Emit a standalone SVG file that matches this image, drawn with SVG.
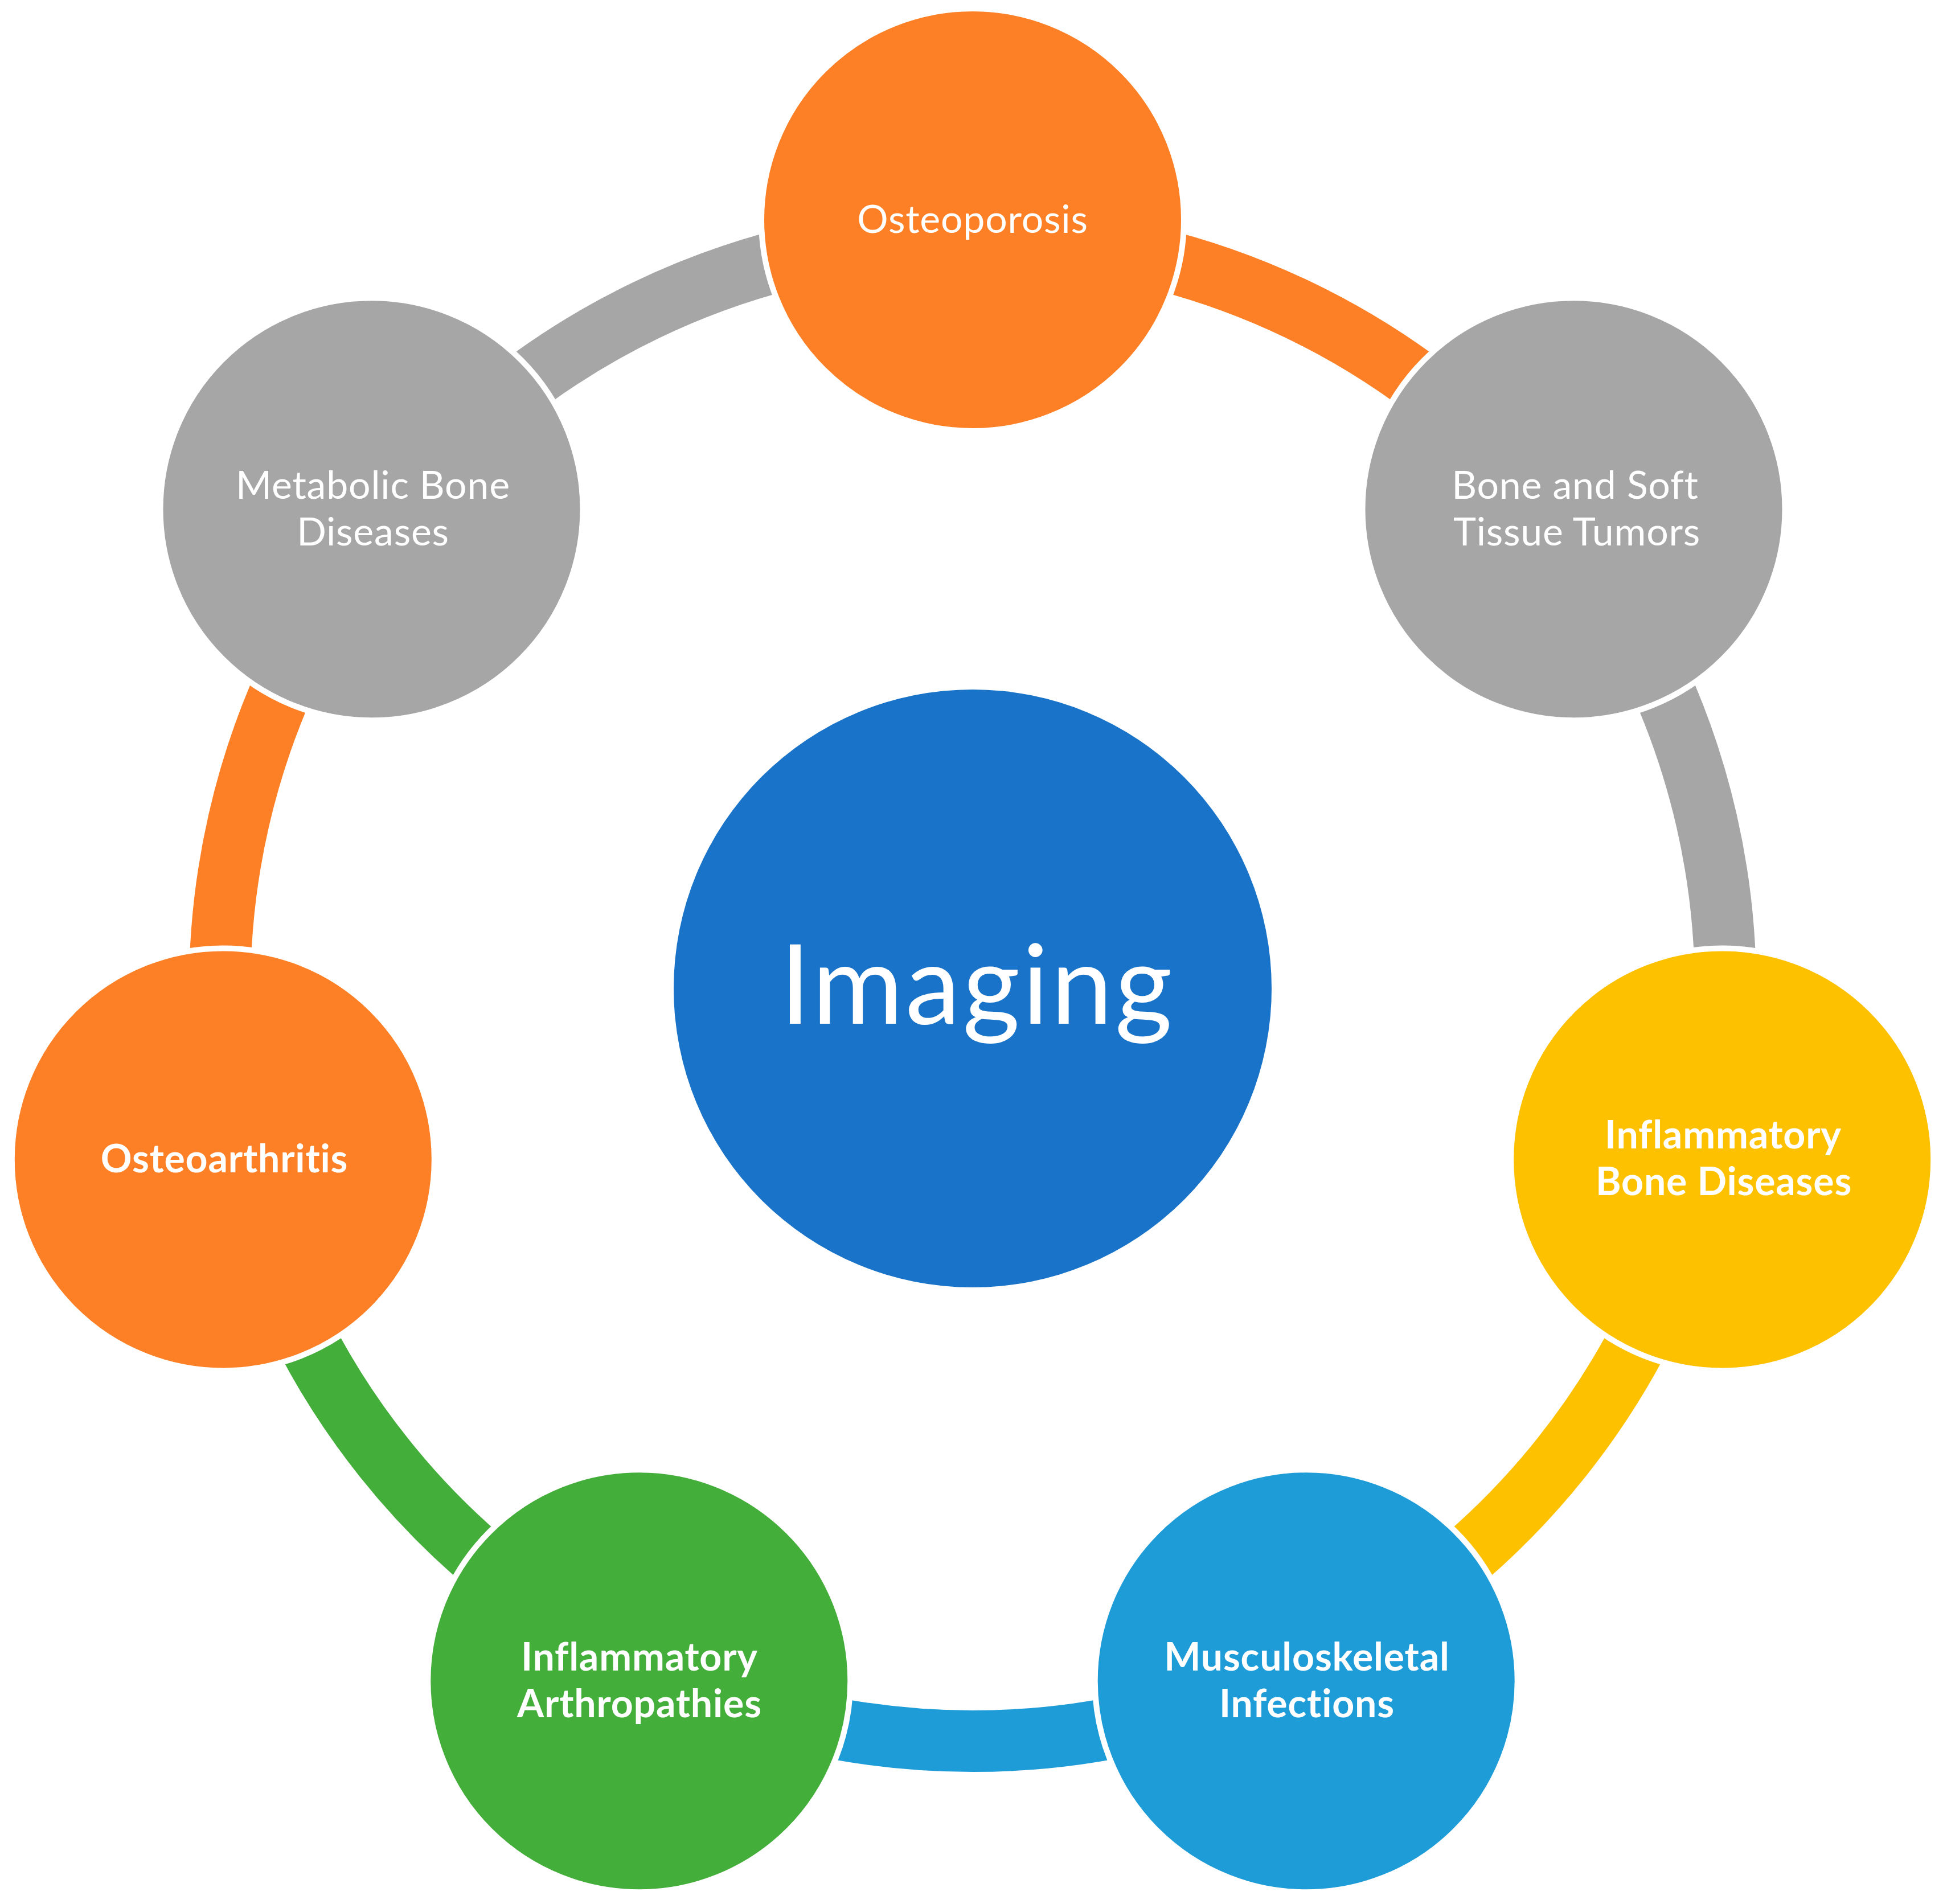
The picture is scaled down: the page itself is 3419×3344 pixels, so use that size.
<svg xmlns="http://www.w3.org/2000/svg" width="3419" height="3344" viewBox="0 0 3419 3344">
<style>
.arc{fill:none;stroke-width:108;stroke-linecap:butt}
.node{stroke:#FFFFFF;stroke-width:10}
.lbl{font-family:Lato,"Liberation Sans",sans-serif;font-size:68px;letter-spacing:0.8px;fill:#FFFFFF;text-anchor:middle}
.b{font-weight:bold}
.orange{fill:#FE8026}.gray{fill:#A6A6A6}.yellow{fill:#FEC100}.lblue{fill:#1E9CD8}.green{fill:#44AE3A}
</style>
<rect width="3419" height="3344" fill="#FFFFFF"/>
<g id="connectors">
<path class="arc" stroke="#FE8026" d="M1708,414 A1322,1322 0 0 1 2741.6,911.7"/>
<path class="arc" stroke="#A6A6A6" d="M2741.6,911.7 A1322,1322 0 0 1 2996.9,2030.2"/>
<path class="arc" stroke="#FEC100" d="M2996.9,2030.2 A1322,1322 0 0 1 2281.6,2927.1"/>
<path class="arc" stroke="#1E9CD8" d="M2281.6,2927.1 A1322,1322 0 0 1 1134.4,2927.1"/>
<path class="arc" stroke="#44AE3A" d="M1134.4,2927.1 A1322,1322 0 0 1 419.1,2030.2"/>
<path class="arc" stroke="#FE8026" d="M419.1,2030.2 A1322,1322 0 0 1 674.4,911.7"/>
<path class="arc" stroke="#A6A6A6" d="M674.4,911.7 A1322,1322 0 0 1 1708,414"/>
</g>
<g id="center">
<circle cx="1708" cy="1736" r="525" fill="#1973C8"/>
<text x="1716" y="1798" font-family="Lato,'Liberation Sans',sans-serif" font-size="194" letter-spacing="4" fill="#FFFFFF" text-anchor="middle">Imaging</text>
</g>
<g id="osteoporosis">
<circle class="node orange" cx="1708" cy="386" r="371"/>
<text class="lbl" x="1708" y="409">Osteoporosis</text>
</g>
<g id="bone-soft-tissue-tumors">
<circle class="node gray" cx="2763.5" cy="894.3" r="371"/>
<text class="lbl" x="2766" y="876">Bone and Soft</text>
<text class="lbl" x="2769" y="958">Tissue Tumors</text>
</g>
<g id="inflammatory-bone-diseases">
<circle class="node yellow" cx="3024.2" cy="2036.4" r="371"/>
<text class="lbl b" x="3026" y="2017">Inflammatory</text>
<text class="lbl b" x="3027" y="2099">Bone Diseases</text>
</g>
<g id="musculoskeletal-infections">
<circle class="node lblue" cx="2293.7" cy="2952.3" r="371"/>
<text class="lbl b" x="2295" y="2934">Musculoskeletal</text>
<text class="lbl b" x="2295" y="3016">Infections</text>
</g>
<g id="inflammatory-arthropathies">
<circle class="node green" cx="1122.3" cy="2952.3" r="371"/>
<text class="lbl b" x="1123" y="2934">Inflammatory</text>
<text class="lbl b" x="1123" y="3016">Arthropathies</text>
</g>
<g id="osteoarthritis">
<circle class="node orange" cx="391.8" cy="2036.4" r="371"/>
<text class="lbl b" x="394" y="2059">Osteoarthritis</text>
</g>
<g id="metabolic-bone-diseases">
<circle class="node gray" cx="652.5" cy="894.3" r="371"/>
<text class="lbl" x="655" y="876">Metabolic Bone</text>
<text class="lbl" x="655" y="958">Diseases</text>
</g>
</svg>
